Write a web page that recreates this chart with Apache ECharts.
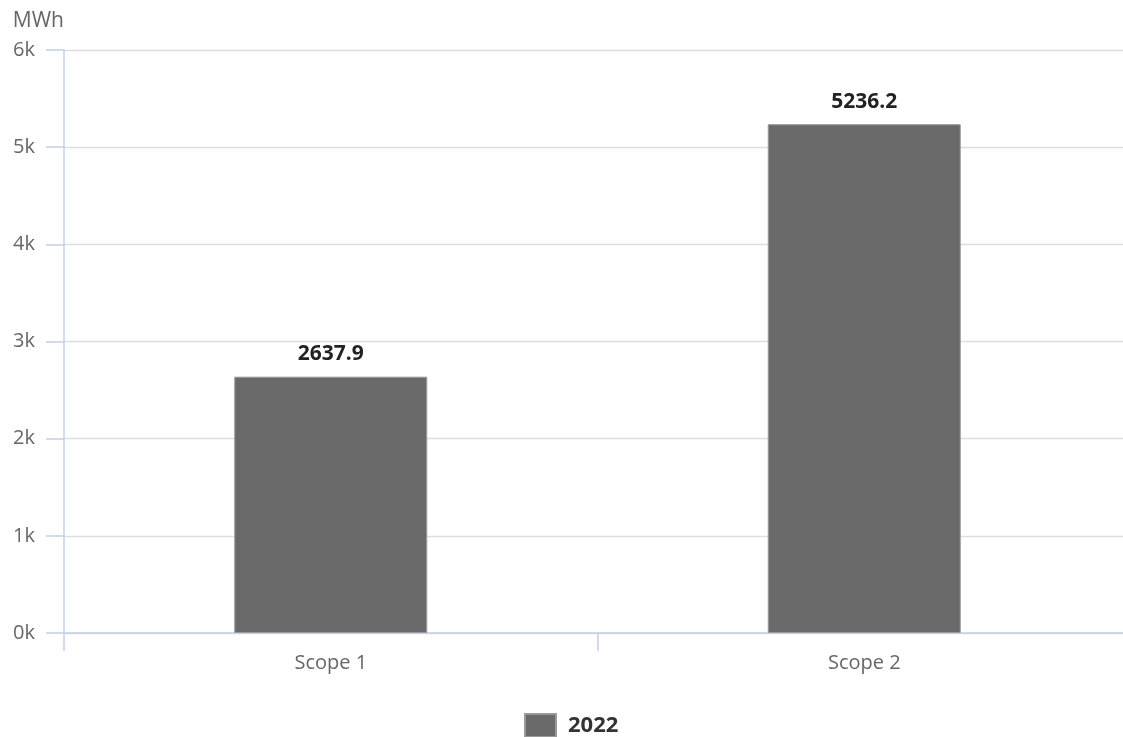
<!DOCTYPE html>
<html>
<head>
<meta charset="utf-8">
<script src="https://cdn.jsdelivr.net/npm/echarts@6/dist/echarts.min.js"></script>
<style>
html,body{margin:0;padding:0;background:#fff;}
#c{width:1123px;height:737px;}
</style>
</head>
<body>
<div id="c"></div>
<script>
const categories = ['Scope 1', 'Scope 2'];
const values2022 = [2637.9, 5236.2];
const seriesName = '2022';
const yTicks = [0, 1000, 2000, 3000, 4000, 5000, 6000];

const chart = echarts.init(document.getElementById('c'), null, {renderer: 'canvas'});
const FONT = '"Open Sans", "Noto Sans", sans-serif';
chart.setOption({
  animation: false,
  textStyle: {fontFamily: FONT},
  grid: {left: 64, top: 50, width: 1067, bottom: 104, containLabel: false, outerBoundsMode: 'none'},
  legend: {
    top: 713, left: 524, padding: 0,
    icon: 'rect',
    itemWidth: 31, itemHeight: 23, itemGap: 10,
    textStyle: {fontSize: 22, fontWeight: 'bold', color: '#333', fontFamily: FONT, padding: [0, 0, 0, 7]},
    data: [seriesName]
  },
  xAxis: {
    type: 'category',
    data: categories,
    axisLine: {show: true, lineStyle: {color: '#c4d0e3', width: 1.5}},
    axisTick: {show: true, length: 18, lineStyle: {color: '#c4d0e3', width: 1.5}},
    axisLabel: {color: '#666', fontSize: 20, margin: 20, fontFamily: FONT}
  },
  yAxis: {
    type: 'value',
    min: yTicks[0], max: yTicks[yTicks.length - 1], interval: 1000,
    name: 'MWh',
    nameLocation: 'end',
    nameGap: 29,
    nameTextStyle: {color: '#666', fontSize: 21, align: 'right', verticalAlign: 'middle', fontFamily: FONT},
    axisLine: {show: true, lineStyle: {color: '#c4d0e3', width: 1.5}},
    axisTick: {show: true, length: 18, lineStyle: {color: '#c4d0e3', width: 1.5}},
    splitLine: {show: true, lineStyle: {color: '#dedede', width: 1.3}},
    axisLabel: {color: '#666', fontSize: 20, margin: 29, formatter: v => (v / 1000) + 'k', fontFamily: FONT}
  },
  series: [{
    name: seriesName,
    type: 'bar',
    data: values2022,
    barWidth: 193,
    itemStyle: {color: '#6a6a6a', borderColor: '#9a9a9a', borderWidth: 1},
    label: {
      show: true, position: 'top', distance: 12,
      color: '#222', fontWeight: 'bold', fontSize: 21, fontFamily: FONT,
      formatter: p => p.value.toFixed(1)
    }
  }]
});
</script>
</body>
</html>
